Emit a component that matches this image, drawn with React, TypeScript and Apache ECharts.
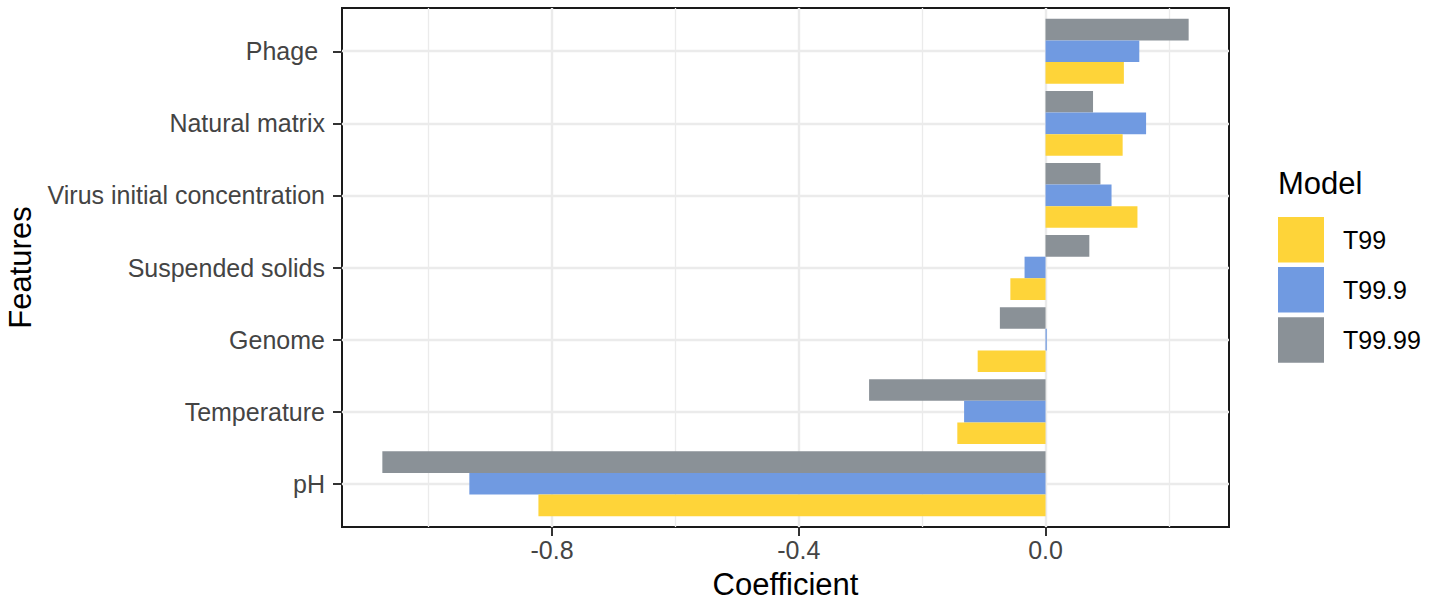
import React, { useEffect, useRef } from "react";
import * as echarts from "echarts";

// Categories from bottom to top
const categories = [
  "pH",
  "Temperature",
  "Genome",
  "Suspended solids",
  "Virus initial concentration",
  "Natural matrix",
  "Phage ",
];
const seriesNames = ["T99", "T99.9", "T99.99"];
const t99 = [-0.822, -0.143, -0.11, -0.057, 0.149, 0.125, 0.127];
const t999 = [-0.934, -0.132, 0.002, -0.034, 0.107, 0.163, 0.152];
const t9999 = [-1.075, -0.286, -0.074, 0.071, 0.089, 0.077, 0.232];
const colors = ["#FED439", "#709AE1", "#8A9197"];
const majorTicks = [-0.8, -0.4, 0.0];
const minorTicks = [-1.0, -0.6, -0.2, 0.2];
const xMin = -1.1404;
const xMax = 0.2974;

export default function App() {
  const ref = useRef<HTMLDivElement>(null);
  useEffect(() => {
    if (!ref.current) return;
    const chart = echarts.init(ref.current, undefined, { renderer: "svg" });
    const panelLeft = 342;
    const panelTop = 8;
    const panelW = 887;
    const panelH = 519;
    const unit = panelH / 7.2;
    const grid = "#EBEBEB";
    const dark = "#333333";
    const allData = [t99, t999, t9999];
    // within a group, the first series is drawn at the top: reverse order
    const order = [2, 1, 0];
    const option: any = {
      animation: false,
      textStyle: { fontFamily: "Liberation Sans, Arial, sans-serif" },
      title: {
        text: "Model",
        left: 1278,
        top: 168,
        padding: 0,
        textStyle: { fontSize: 31, fontWeight: "normal", color: "#000" },
      },
      legend: {
        data: seriesNames,
        orient: "vertical",
        left: 1278,
        top: 217,
        padding: 0,
        itemWidth: 46,
        itemHeight: 45.5,
        itemGap: 4.6,
        icon: "rect",
        selectedMode: false,
        textStyle: { fontSize: 25, color: "#000", padding: [0, 0, 0, 14] },
      },
      grid: [
        {
          left: panelLeft,
          top: panelTop + 0.1 * unit,
          width: panelW,
          height: 7 * unit,
          containLabel: false,
          outerBoundsMode: "none",
        },
        {
          left: panelLeft,
          top: panelTop,
          width: panelW,
          height: panelH,
          show: true,
          borderColor: "#1a1a1a",
          borderWidth: 2,
          backgroundColor: "transparent",
          containLabel: false,
          outerBoundsMode: "none",
        },
      ],
      xAxis: [
        { type: "value", gridIndex: 0, min: xMin, max: xMax, show: false },
        {
          type: "value",
          gridIndex: 1,
          min: xMin,
          max: xMax,
          position: "bottom",
          axisLine: { show: false, onZero: false },
          splitLine: { show: false },
          axisTick: {
            show: true,
            customValues: majorTicks,
            length: 9,
            lineStyle: { color: dark, width: 2 },
          },
          axisLabel: {
            customValues: majorTicks,
            formatter: (v: number) => v.toFixed(1),
            fontSize: 25,
            color: "#444444",
            margin: 10,
          },
          name: "Coefficient",
          nameLocation: "middle",
          nameGap: 42,
          nameTextStyle: { fontSize: 31, color: "#000" },
        },
      ],
      yAxis: [
        {
          type: "category",
          gridIndex: 0,
          position: "left",
          data: categories,
          axisLine: { show: false, onZero: false },
          axisTick: {
            show: true,
            alignWithLabel: true,
            length: 9,
            lineStyle: { color: dark, width: 2 },
          },
          axisLabel: { fontSize: 25, color: "#444444", margin: 17 },
          splitLine: { show: false },
          name: "Features",
          nameLocation: "middle",
          nameGap: 306,
          nameTextStyle: { fontSize: 31, color: "#000" },
        },
        { type: "value", gridIndex: 1, min: -0.6, max: categories.length - 0.4, show: false },
      ],
      series: [
        {
          type: "line",
          xAxisIndex: 1,
          yAxisIndex: 1,
          data: [],
          silent: true,
          z: 1,
          markLine: {
            silent: true,
            z: 1,
            symbol: ["none", "none"],
            label: { show: false },
            emphasis: { disabled: true },
            data: [
              ...minorTicks.map((v) => ({ xAxis: v, lineStyle: { color: grid, width: 1.3, type: "solid" } })),
              ...majorTicks.map((v) => ({ xAxis: v, lineStyle: { color: grid, width: 2.4, type: "solid" } })),
              ...categories.map((_c, i) => ({ yAxis: i, lineStyle: { color: grid, width: 2.4, type: "solid" } })),
            ],
          },
        },
        ...order.map((i) => ({
          type: "bar",
          name: seriesNames[i],
          xAxisIndex: 0,
          yAxisIndex: 0,
          data: allData[i],
          itemStyle: { color: colors[i] },
          barGap: "0%",
          barCategoryGap: "10%",
          z: 3,
          emphasis: { disabled: true },
        })),
      ],
    };
    chart.setOption(option);
    return () => chart.dispose();
  }, []);
  return (
    <div
      ref={ref}
      style={{ position: "fixed", left: 0, top: 0, width: 1430, height: 607, background: "#fff" }}
    />
  );
}
